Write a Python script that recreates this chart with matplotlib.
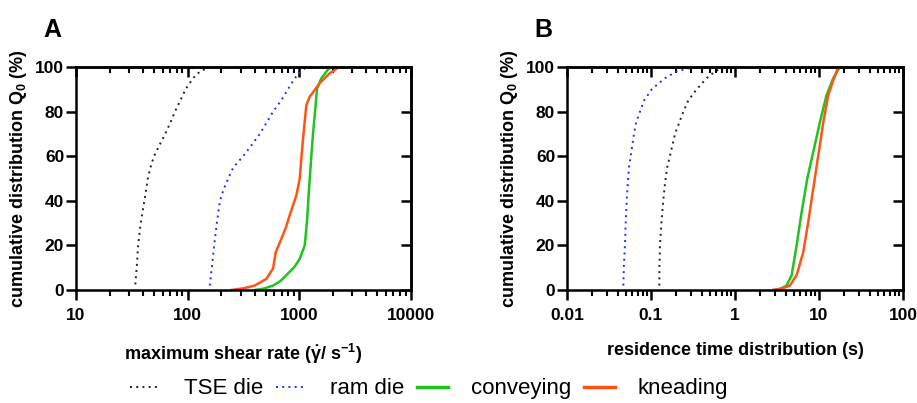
import matplotlib
matplotlib.use("Agg")
import matplotlib.pyplot as plt
from matplotlib.ticker import LogLocator, NullFormatter, FixedLocator
from matplotlib.lines import Line2D

plt.rcParams['font.family'] = ['Liberation Sans', 'DejaVu Sans']
plt.rcParams['mathtext.fontset'] = 'custom'
plt.rcParams['mathtext.rm'] = 'Liberation Sans:bold'
plt.rcParams['mathtext.bf'] = 'Liberation Sans:bold'
plt.rcParams['mathtext.it'] = 'Liberation Sans:bold'

# panel A: maximum shear rate (1/s) vs cumulative %
a_tse_x = [34, 35, 36, 38, 41, 44, 46.5, 50, 56, 63, 70, 77, 86, 96, 112, 129, 150, 170, 195]
a_tse_y = [2.5, 10, 20, 30, 40, 50, 55, 60, 65, 70, 75, 80, 85, 90, 95, 98, 99.5, 100, 100]
a_ram_x = [158, 165, 173, 183, 195, 210, 231, 257, 315, 375, 444, 510, 584, 690, 794, 912, 1050, 1160, 1600, 2400, 3150]
a_ram_y = [2, 10, 20, 30, 40, 45, 50, 55, 60, 65, 70, 75, 80, 85, 90, 95, 98, 100, 100, 100, 100]
a_conv_x = [400, 480, 584, 680, 769, 912, 1012, 1122, 1175, 1227, 1288, 1330, 1380, 1447, 1585, 1820, 1950]
a_conv_y = [0, 0.6, 2, 4, 6.7, 10.5, 14, 20, 30.6, 45.6, 60.5, 70, 78.5, 90.4, 95, 99, 100]
a_knead_x = [248, 320, 400, 509, 584, 617, 693, 760, 824, 946, 1012, 1050, 1084, 1160, 1244, 1528, 1860, 2290]
a_knead_y = [0, 0.8, 2, 5, 9.7, 17, 23, 28, 33.6, 42.6, 50, 60, 68, 83, 86.7, 92.7, 97, 100]

# panel B: residence time (s) vs cumulative %
b_tse_x = [0.1256, 0.126, 0.128, 0.133, 0.140, 0.147, 0.156, 0.168, 0.193, 0.243, 0.278, 0.35, 0.46, 0.58, 0.726, 0.78]
b_tse_y = [2, 10, 20, 30, 40, 48, 55, 60, 70, 80, 85, 90, 95, 98, 100, 100]
b_ram_x = [0.0469, 0.0475, 0.049, 0.050, 0.0514, 0.0530, 0.0547, 0.0573, 0.0628, 0.0664, 0.074, 0.083, 0.102, 0.147, 0.202, 0.319, 0.38]
b_ram_y = [2, 10, 20, 30, 40, 48, 55, 60, 70, 75, 80, 85, 90, 95, 98, 100, 100]
b_conv_x = [2.86, 3.5, 4.12, 4.73, 5.42, 6.22, 7.26, 8.56, 10.3, 12.3, 14.8, 17.8]
b_conv_y = [0, 0.6, 2, 6.7, 20, 35, 50, 62, 75.5, 87.4, 95, 100]
b_knead_x = [2.86, 3.6, 4.52, 5.42, 6.5, 7.46, 8.56, 9.82, 11.3, 12.9, 15.1, 17.0]
b_knead_y = [0, 0.6, 2, 6.7, 17, 30.6, 45.6, 60.5, 75.5, 87.4, 95, 100]

labels = ['TSE die', 'ram die', 'conveying', 'kneading']
colors = ['#222222', '#1f2bff', '#1fc41f', '#ff5512']
dot = (0, (1, 2.2))

fig = plt.figure(figsize=(9.17, 4.03), dpi=100)
axA = fig.add_axes([0.0829, 0.2804, 0.365, 0.5533])
axB = fig.add_axes([0.6183, 0.2804, 0.3664, 0.5533])


def style(ax, xlim, xlabel, letter, lx):
    ax.set_xscale('log')
    ax.set_xlim(*xlim)
    ax.set_ylim(0, 100)
    ax.set_yticks([0, 20, 40, 60, 80, 100])
    for s in ax.spines.values():
        s.set_linewidth(1.8)
    ax.tick_params(which='major', direction='out', length=7, width=1.8,
                   labelsize=12.5, pad=3)
    ax.tick_params(axis='y', pad=1.5)
    ax.tick_params(axis='x', pad=6)
    ax.tick_params(which='minor', direction='out', length=4, width=1.5)
    ax.xaxis.set_minor_locator(LogLocator(base=10, subs=range(2, 10)))
    ax.xaxis.set_minor_formatter(NullFormatter())
    # top and right ticks point inward
    top = ax.secondary_xaxis('top')
    top.xaxis.set_minor_locator(LogLocator(base=10, subs=range(2, 10)))
    top.tick_params(which='major', direction='in', length=7, width=1.8, labeltop=False)
    top.tick_params(which='minor', direction='in', length=4, width=1.5)
    top.xaxis.set_minor_formatter(NullFormatter())
    top.spines['top'].set_linewidth(1.8)
    right = ax.secondary_yaxis('right')
    right.yaxis.set_major_locator(FixedLocator([0, 20, 40, 60, 80, 100]))
    right.tick_params(direction='in', length=7.5, width=1.8, labelright=False)
    right.spines['right'].set_linewidth(1.8)
    ax.set_ylabel(r'cumulative distribution Q$_0$ (%)', fontsize=13, fontweight='bold')
    ax.yaxis.set_label_coords(-0.14, 0.5)
    ax.set_xlabel(xlabel, fontsize=13, fontweight='bold')
    ax.xaxis.set_label_coords(0.5, -0.235)
    ax.text(lx, 1.165, letter, transform=ax.transAxes, fontsize=18,
            fontweight='bold', va='center', ha='center')


axA.plot(a_tse_x, a_tse_y, color=colors[0], lw=1.4, ls=dot)
axA.plot(a_ram_x, a_ram_y, color=colors[1], lw=1.4, ls=dot)
axA.plot(a_conv_x, a_conv_y, color=colors[2], lw=1.8)
axA.plot(a_knead_x, a_knead_y, color=colors[3], lw=1.8)
style(axA, (10, 10000), r'maximum shear rate ($\dot{\gamma}$/ s$^{-1}$)', 'A', -0.07)
axA.set_xticks([10, 100, 1000, 10000])
axA.set_xticklabels(['10', '100', '1000', '10000'])

axB.plot(b_tse_x, b_tse_y, color=colors[0], lw=1.4, ls=dot)
axB.plot(b_ram_x, b_ram_y, color=colors[1], lw=1.4, ls=dot)
axB.plot(b_conv_x, b_conv_y, color=colors[2], lw=1.8)
axB.plot(b_knead_x, b_knead_y, color=colors[3], lw=1.8)
style(axB, (0.01, 100), 'residence time distribution (s)', 'B', -0.07)
axB.set_xticks([0.01, 0.1, 1, 10, 100])
axB.set_xticklabels(['0.01', '0.1', '1', '10', '100'])

for ax in (axA, axB):
    for t in ax.get_xticklabels() + ax.get_yticklabels():
        t.set_fontweight('bold')

handles = [Line2D([], [], color=colors[0], lw=1.4, ls=dot),
           Line2D([], [], color=colors[1], lw=1.4, ls=dot),
           Line2D([], [], color=colors[2], lw=2.5),
           Line2D([], [], color=colors[3], lw=2.5)]
fig.legend(handles, labels, loc='center', bbox_to_anchor=(0.468, 0.035), ncol=4,
           frameon=False, fontsize=16, handlelength=1.4, handletextpad=1.0,
           columnspacing=0.6)

fig.savefig('out.png', dpi=100)
